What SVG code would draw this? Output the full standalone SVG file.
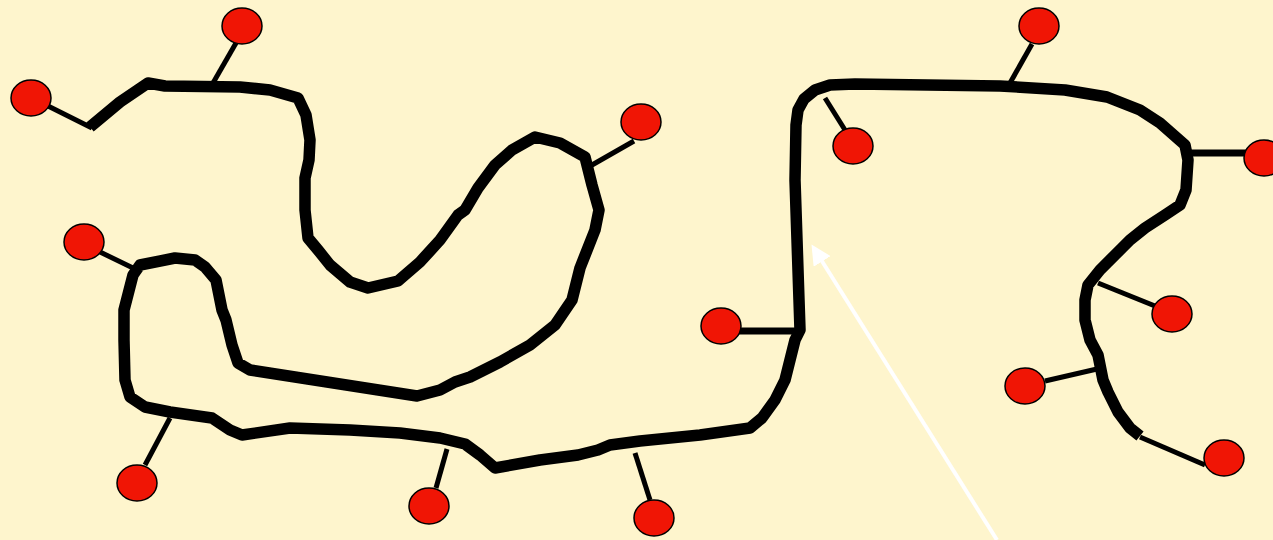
<svg xmlns="http://www.w3.org/2000/svg" width="1273" height="540" viewBox="0 0 1273 540">
<style>
.chain{fill:none;stroke:#000;stroke-width:11.5;stroke-linejoin:round;stroke-linecap:butt}
.side{fill:none;stroke:#000;stroke-width:5}
.ball{fill:#F01505;stroke:#000;stroke-width:1.5}
</style>
<defs>
<marker id="wh" viewBox="0 0 10 10" refX="2" refY="5" markerWidth="5" markerHeight="5" orient="auto">
<path d="M0,0 L10,5 L0,10 z" fill="#fff"/>
</marker>
</defs>
<rect width="1273" height="540" fill="#FEF5CD"/>
<g id="connectors">
<path class="side" d="M48,106 L92,128"/>
<path class="side" d="M236,43 L213,83"/>
<path class="side" d="M634,141 L592,165"/>
<path class="side" d="M98,251 L133,268"/>
<path class="side" d="M145,465 L170,418"/>
<path class="side" d="M436,488 L447,449"/>
<path class="side" d="M650,500 L635,453"/>
<path class="side" style="stroke-width:7" d="M738,331 L803,331"/>
<path class="side" d="M845,130 L825,98"/>
<path class="side" d="M1032,44 L1010,83"/>
<path class="side" style="stroke-width:7" d="M1188,153 L1246,153"/>
<path class="side" d="M1155,306 L1098,283"/>
<path class="side" d="M1045,381 L1097,369"/>
<path class="side" d="M1205,465 L1140,437"/>
<path class="chain" d="M90,127 L120,102 L148,83 L165,86 L240,87 L270,90 L298,98 L306,115 L310,140 L309,160 L305,178 L305,210 L308,238 L318,250 L330,265 L350,282 L368,288 L398,281 L420,262 L440,240 L458,215 L465,210 L478,188 L495,165 L512,150 L535,137 L560,143 L585,157 L592,185 L599,210 L595,230 L580,268 L572,300 L555,325 L530,345 L500,362 L470,377 L455,382 L440,390 L417,396 L250,370 L238,363 L232,345 L226,320 L222,310 L220,300 L216,280 L205,267 L195,260 L175,258 L140,265 L133,275 L124,310 L124,340 L125,380 L130,397 L145,407 L170,412 L212,418 L230,430 L242,435 L290,428 L350,430 L400,433 L440,438 L465,444 L480,455 L495,468 L540,460 L578,455 L598,450 L610,445 L640,441 L700,435 L750,428 L762,418 L775,400 L785,380 L795,340 L800,330 L799,300 L797,240 L795,180 L796,125 L798,110 L804,99 L815,90 L830,85 L855,84 L1000,86 L1065,90 L1107,97 L1140,110 L1160,123 L1185,145 L1188,160 L1186,190 L1180,205 L1165,215 L1145,228 L1130,240 L1125,245 L1115,255 L1100,270 L1088,285 L1085,300 L1085,320 L1090,340 L1098,355 L1103,380 L1108,392 L1118,412 L1130,428 L1140,436"/>
<path d="M997,540 L820,258" fill="none" stroke="#fff" stroke-width="4" marker-end="url(#wh)"/>
</g>
<g id="n1"><ellipse class="ball" cx="31" cy="98" rx="20" ry="18"/></g>
<g id="n2"><ellipse class="ball" cx="242" cy="26" rx="20" ry="18"/></g>
<g id="n3"><ellipse class="ball" cx="641" cy="122" rx="20" ry="18"/></g>
<g id="n4"><ellipse class="ball" cx="84" cy="242" rx="20" ry="18"/></g>
<g id="n5"><ellipse class="ball" cx="137" cy="483" rx="20" ry="18"/></g>
<g id="n6"><ellipse class="ball" cx="429" cy="506" rx="20" ry="18"/></g>
<g id="n7"><ellipse class="ball" cx="654" cy="518" rx="20" ry="18"/></g>
<g id="n8"><ellipse class="ball" cx="721" cy="326" rx="20" ry="18"/></g>
<g id="n9"><ellipse class="ball" cx="853" cy="146" rx="20" ry="18"/></g>
<g id="n10"><ellipse class="ball" cx="1039" cy="26" rx="20" ry="18"/></g>
<g id="n11"><ellipse class="ball" cx="1264" cy="158" rx="20" ry="18"/></g>
<g id="n12"><ellipse class="ball" cx="1172" cy="314" rx="20" ry="18"/></g>
<g id="n13"><ellipse class="ball" cx="1025" cy="386" rx="20" ry="18"/></g>
<g id="n14"><ellipse class="ball" cx="1224" cy="458" rx="20" ry="18"/></g>
</svg>
